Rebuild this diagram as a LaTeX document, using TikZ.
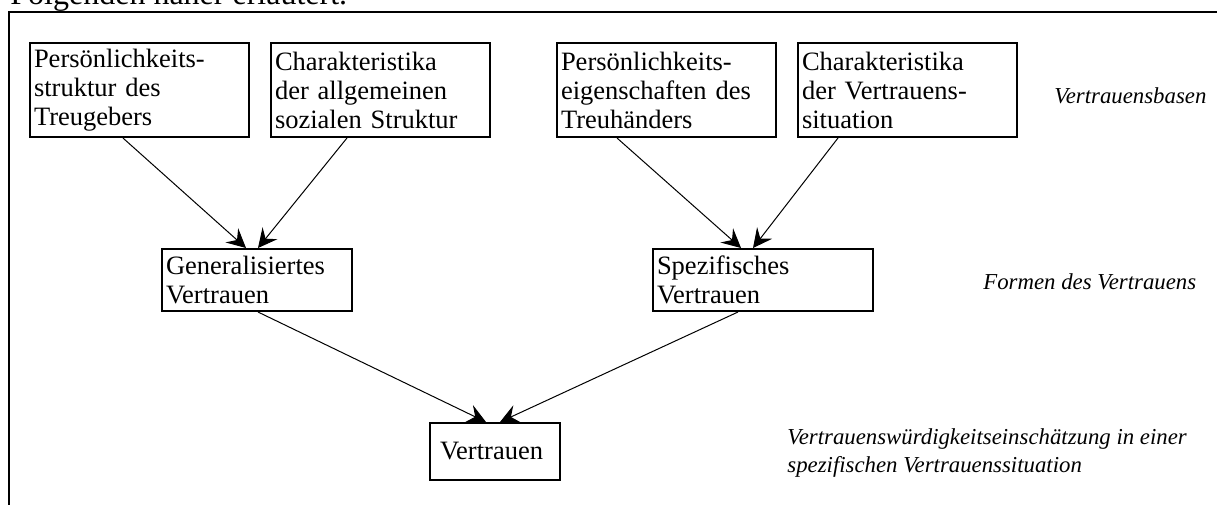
\documentclass[tikz,border=0pt]{standalone}
\usepackage{fontspec}
\setmainfont{Liberation Serif}
\usetikzlibrary{arrows.meta}
\newcommand{\Kasten}[4]{%
  node (#1) [kasten, text width=#2, minimum height=#3]
  {#4};
}
\tikzset{
  kasten/.style={draw, line width=1pt, align=left, inner xsep=2pt, inner ysep=3pt,
    font=\fontsize{13.25}{14.5}\selectfont},
  ebene/.style={anchor=west, inner sep=0pt, align=left,
    font=\fontsize{11.4}{14}\selectfont\itshape},
  pfeil/.style={->, >={Stealth[length=9.5pt, width=9.5pt, inset=3.5pt]}, line width=0.5pt}
}
\begin{document}
\begin{tikzpicture}[x=0.5pt, y=-0.5pt]
    \useasboundingbox (0,0) rectangle (1217,504);
    \fill[white] (0,0) rectangle (1217,504);
    \clip (0,0) rectangle (1217,504);

    \node (satz) [anchor=base west, inner sep=0pt, font=\fontsize{16}{18}\selectfont]
      at (10,4) {Folgenden näher erläutert.};
    \draw[line width=1pt] (9,530) -- (9,12) -- (1240,12);

    \draw (139.5,90) \Kasten{treugeber}{105.5pt}{47pt}
      {Persönlichkeits-\\struktur des\\Treugebers}
    \draw (380.5,90) \Kasten{sozial}{105.5pt}{47pt}
      {Charakteristika\\der allgemeinen\\sozialen Struktur}
    \draw (666.5,90) \Kasten{treuhaender}{105.5pt}{47pt}
      {Persönlichkeits-\\eigenschaften des\\Treuhänders}
    \draw (907.5,90) \Kasten{situation}{105.5pt}{47pt}
      {Charakteristika\\der Vertrauens-\\situation}

    \draw (257,280) \Kasten{generell}{91pt}{31pt}
      {Generalisiertes\\Vertrauen}
    \draw (763,280) \Kasten{spezifisch}{106pt}{31pt}
      {Spezifisches\\Vertrauen}

    \draw (495,451.5) \Kasten{vertrauen}{61pt}{28.5pt}
      {\hspace*{3pt}Vertrauen}

    \node (basen) [ebene] at (1054,96) {Vertrauensbasen};
    \node (formen) [ebene] at (983,282) {Formen des Vertrauens};
    \node (einschaetzung) [ebene] at (787,453.5)
      {Vertrauenswürdigkeitseinschätzung in einer\\spezifischen Vertrauenssituation};

    \draw[pfeil] ([xshift=-8.25pt]treugeber.south) -- ([xshift=-5.5pt]generell.north);
    \draw[pfeil] ([xshift=-16.75pt]sozial.south) -- ([xshift=0.5pt]generell.north);
    \draw[pfeil] ([xshift=-24.75pt]treuhaender.south) -- ([xshift=-11pt]spezifisch.north);
    \draw[pfeil] ([xshift=-34.75pt]situation.south) -- ([xshift=-5pt]spezifisch.north);
    \draw[pfeil] ([xshift=0.5pt]generell.south) -- ([xshift=-4.5pt]vertrauen.north);
    \draw[pfeil] ([xshift=-12.5pt]spezifisch.south) -- ([xshift=2.5pt]vertrauen.north);
\end{tikzpicture}
\end{document}
